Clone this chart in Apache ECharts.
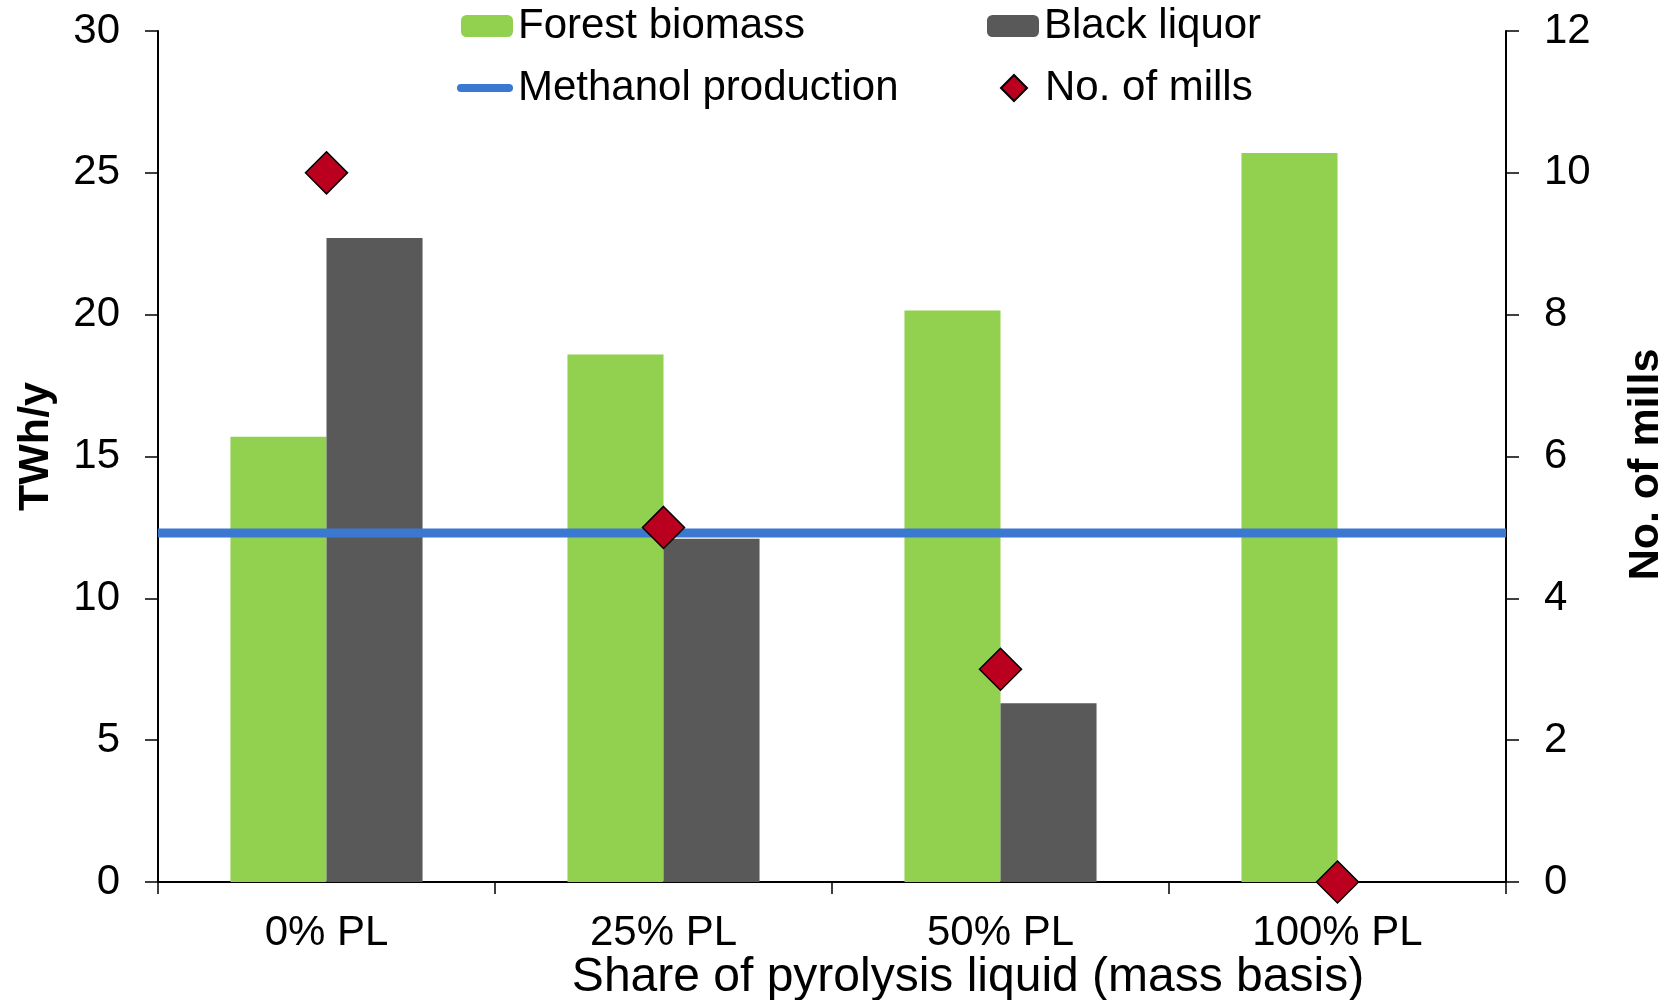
<!DOCTYPE html>
<html>
<head>
<meta charset="utf-8">
<script src="https://cdn.jsdelivr.net/npm/echarts@6/dist/echarts.min.js"></script>
<style>
html,body{margin:0;padding:0;background:#fff;}
#chart{width:1670px;height:1000px;}
</style>
</head>
<body>
<div id="chart"></div>
<script>
// ---- data ----
const categories = ['0% PL', '25% PL', '50% PL', '100% PL'];
const forestBiomass = [15.7, 18.6, 20.15, 25.7];
const blackLiquor = [22.7, 12.1, 6.3, 0];
const methanolProduction = [12.3, 12.3];   // constant level across the chart
const noOfMills = [10, 5, 3, 0];
const leftTicks = { min: 0, max: 30, interval: 5 };
const rightTicks = { min: 0, max: 12, interval: 2 };

const FONT = '"Liberation Sans", Arial, Helvetica, sans-serif';
const chart = echarts.init(document.getElementById('chart'), null, { renderer: 'canvas' });

const legendText = { fontFamily: FONT, fontSize: 42, color: '#000', lineHeight: 42 };
const legendBase = { padding: 0, selectedMode: false, textStyle: legendText, symbolKeepAspect: true };

chart.setOption({
  backgroundColor: '#ffffff',
  animation: false,
  textStyle: { fontFamily: FONT },
  grid: { left: 158, right: 164, top: 31, bottom: 118, containLabel: false, outerBoundsMode: 'none' },
  legend: [
    Object.assign({}, legendBase, { data: ['Forest biomass'], left: 461, top: 5, itemWidth: 52, itemHeight: 22 }),
    Object.assign({}, legendBase, { data: ['Black liquor'], left: 987, top: 5, itemWidth: 52, itemHeight: 22 }),
    Object.assign({}, legendBase, { data: [{ name: 'Methanol production',
        icon: 'path://M4,0 L52,0 A4,4 0 0 1 52,8 L4,8 A4,4 0 0 1 4,0 Z' }],
        left: 457, top: 67, itemWidth: 56, itemHeight: 8 }),
    Object.assign({}, legendBase, { data: [{ name: 'No. of mills',
        icon: 'path://M0,13 M52,13 M26,0 L39,13 L26,26 L13,13 Z' }],
        left: 987, top: 67, itemWidth: 52, itemHeight: 26 })
  ],
  xAxis: [
    {
      type: 'category',
      data: categories,
      boundaryGap: true,
      axisLine: { lineStyle: { color: '#000', width: 2 } },
      axisTick: { show: true, length: 12, lineStyle: { color: '#000', width: 1.5 } },
      axisLabel: { fontFamily: FONT, fontSize: 42, color: '#000', margin: 30 },
      name: 'Share of pyrolysis liquid (mass basis)',
      nameLocation: 'middle',
      nameGap: 72,
      nameMoveOverlap: false,
      nameTextStyle: { fontFamily: FONT, fontSize: 48, lineHeight: 48, color: '#000',
                       padding: [0, 0, 0, 272] },
      splitLine: { show: false }
    },
    {
      type: 'value',
      min: 0, max: 1,
      show: false,
      position: 'bottom'
    }
  ],
  yAxis: [
    {
      type: 'value',
      min: leftTicks.min, max: leftTicks.max, interval: leftTicks.interval,
      position: 'left',
      axisLine: { show: true, lineStyle: { color: '#000', width: 2 } },
      axisTick: { show: true, length: 13, lineStyle: { color: '#000', width: 1.5 } },
      axisLabel: { fontFamily: FONT, fontSize: 42, color: '#000', margin: 38 },
      splitLine: { show: false },
      name: 'TWh/y',
      nameLocation: 'middle',
      nameRotate: 90,
      nameGap: 100,
      nameMoveOverlap: false,
      nameTextStyle: { fontFamily: FONT, fontSize: 43, fontWeight: 'bold', color: '#000', padding: [0, 0, 0, 20] }
    },
    {
      type: 'value',
      min: rightTicks.min, max: rightTicks.max, interval: rightTicks.interval,
      position: 'right',
      axisLine: { show: true, lineStyle: { color: '#000', width: 2 } },
      axisTick: { show: true, length: 13, lineStyle: { color: '#000', width: 1.5 } },
      axisLabel: { fontFamily: FONT, fontSize: 42, color: '#000', margin: 38 },
      splitLine: { show: false },
      name: 'No. of mills',
      nameLocation: 'middle',
      nameRotate: 90,
      nameGap: 119,
      nameMoveOverlap: false,
      nameTextStyle: { fontFamily: FONT, fontSize: 43, fontWeight: 'bold', color: '#000', padding: [0, 16, 0, 0] }
    }
  ],
  series: [
    {
      name: 'Forest biomass',
      type: 'bar',
      xAxisIndex: 0, yAxisIndex: 0,
      data: forestBiomass,
      barGap: '0%',
      barCategoryGap: '43%',
      itemStyle: { color: '#92D050' },
      z: 2
    },
    {
      name: 'Black liquor',
      type: 'bar',
      xAxisIndex: 0, yAxisIndex: 0,
      data: blackLiquor,
      barGap: '0%',
      barCategoryGap: '43%',
      itemStyle: { color: '#595959' },
      z: 2
    },
    {
      name: 'Methanol production',
      type: 'line',
      xAxisIndex: 1, yAxisIndex: 0,
      data: methanolProduction.map((v, i) => [i / (methanolProduction.length - 1), v]),
      symbol: 'none',
      showSymbol: false,
      lineStyle: { color: '#3A78D2', width: 9 },
      itemStyle: { color: '#3A78D2' },
      z: 3
    },
    {
      name: 'No. of mills',
      type: 'scatter',
      xAxisIndex: 0, yAxisIndex: 1,
      data: noOfMills,
      symbol: 'diamond',
      symbolSize: 42,
      itemStyle: { color: '#BA001E', borderColor: '#000', borderWidth: 1.5, opacity: 1 },
      emphasis: { disabled: true },
      z: 4
    }
  ]
});
</script>
</body>
</html>
